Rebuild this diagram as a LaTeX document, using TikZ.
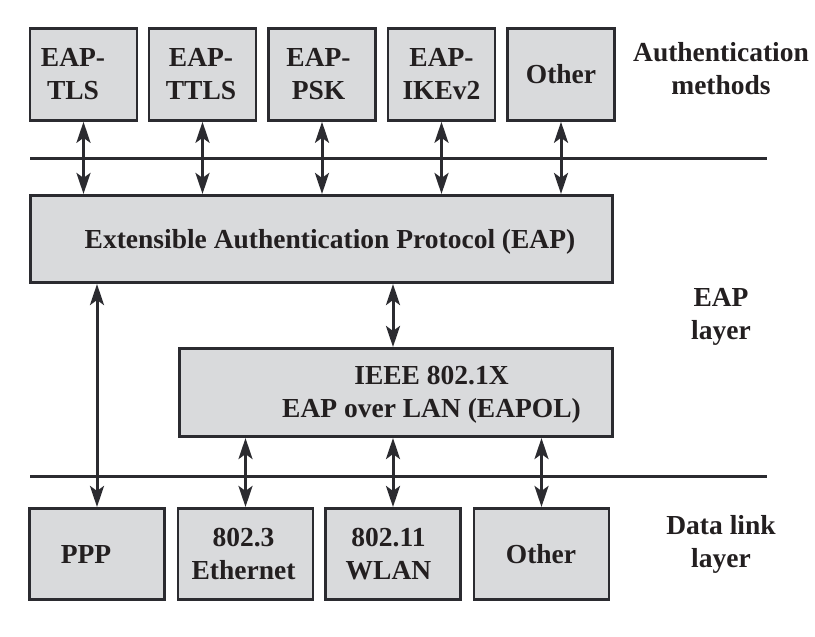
\documentclass[tikz,border=0pt]{standalone}
\usepackage{fontspec}
\setmainfont{Liberation Serif}[BoldFont={Liberation Serif Bold}]
\newfontfamily\lblfont{Liberation Serif Bold}
\usetikzlibrary{arrows.meta}
\definecolor{boxfill}{RGB}{217,218,220}
\definecolor{ink}{RGB}{43,43,48}
\definecolor{txtc}{RGB}{35,31,32}
\tikzset{
  box/.style={draw=ink, line width=2.6pt, fill=boxfill, inner sep=0pt},
  topbox/.style={box, minimum width=107pt, minimum height=92pt},
  botbox/.style={box, minimum width=135pt, minimum height=91.5pt},
  lbl/.style={text=txtc, font=\lblfont\fontsize{27.5}{33}\selectfont, align=center, inner sep=0pt},
  bus/.style={draw=ink, line width=3pt},
  link/.style={draw=ink, line width=3pt,
    {Stealth[length=21pt,width=14pt,inset=5pt]}-{Stealth[length=21pt,width=14pt,inset=5pt]}}
}
\begin{document}
\begin{tikzpicture}[x=1pt,y=-1pt]
\useasboundingbox[fill=white] (0,0) rectangle (815,637);
% authentication methods
\node[topbox] (t1) at (83.5,74.5) {};
\node[topbox] (t2) at (202.5,74.5) {};
\node[topbox] (t3) at (322,74.5) {};
\node[topbox] (t4) at (441.5,74.5) {};
\node[topbox] (t5) at (561,74.5) {};
\node[lbl] (t1t) at (73,74.5) {EAP-\\TLS};
\node[lbl] (t2t) at (201,74.5) {EAP-\\TTLS};
\node[lbl] (t3t) at (318.5,74.5) {EAP-\\PSK};
\node[lbl] (t4t) at (441.5,74.5) {EAP-\\IKEv2};
\node[lbl, anchor=base] (t5t) at (561,83) {Other};
% EAP
\node[box, minimum width=582.5pt, minimum height=87.5pt] (eap) at (321.5,239) {};
\node[lbl, anchor=base] (eapt) at (330,248) {Extensible Authentication Protocol (EAP)};
% EAPOL
\node[box, minimum width=433.5pt, minimum height=88.5pt] (ieee) at (396,392.5) {};
\node[lbl] (ieeet) at (431.5,395) {IEEE 802.1X\\EAP over LAN (EAPOL)};
% data link
\node[botbox] (ppp) at (97,554) {};
\node[botbox] (eth) at (245.5,554) {};
\node[botbox] (wlan) at (393,554) {};
\node[botbox] (oth) at (541.5,554) {};
\node[lbl, anchor=base] (pppt) at (86,563) {PPP};
\node[lbl] (etht) at (243.5,553.7) {802.3\\Ethernet};
\node[lbl] (wlant) at (388.5,553.7) {802.11\\WLAN};
\node[lbl, anchor=base] (otht) at (541,563) {Other};
% right labels
\node[lbl] (authl) at (721,68.5) {Authentication\\methods};
\node[lbl] (eapl) at (721,316.5) {EAP\\layer};
\node[lbl] (dll) at (721,544) {Data link\\layer};
% bus lines
\coordinate (busAl) at (30,158);
\coordinate (busAr) at (767,158);
\coordinate (busBl) at (30,476);
\coordinate (busBr) at (767,476);
\draw[bus] (busAl) -- (busAr);
\draw[bus] (busBl) -- (busBr);
% connectors
\draw[link] (t1) -- (t1 |- eap.north);
\draw[link] (t2) -- (t2 |- eap.north);
\draw[link] (t3) -- (t3 |- eap.north);
\draw[link] (t4) -- (t4 |- eap.north);
\draw[link] (t5) -- (t5 |- eap.north);
\draw[link] (eap.south -| ppp) -- (ppp);
\draw[link] (eap.south -| wlan) -- (ieee.north -| wlan);
\draw[link] (ieee.south -| eth) -- (eth);
\draw[link] (ieee.south -| wlan) -- (wlan);
\draw[link] (ieee.south -| oth) -- (oth);
\end{tikzpicture}
\end{document}
